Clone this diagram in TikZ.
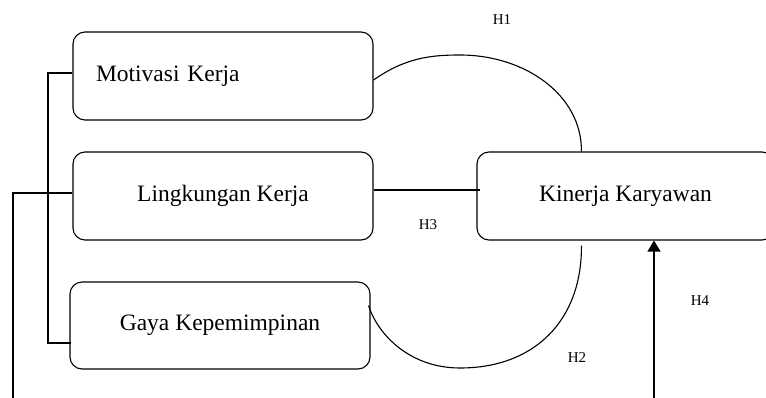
\documentclass[tikz,border=0pt]{standalone}
\usepackage{fontspec}
\setmainfont{Liberation Serif}
\usetikzlibrary{calc,arrows.meta}

\tikzset{
  var/.style={draw, line width=1.1pt, rounded corners=12pt, minimum width=300pt,
    minimum height=88pt, inner sep=0pt, font=\fontsize{23.5}{26}\selectfont},
  link/.style={line width=1.1pt},
  hyp/.style={font=\fontsize{15}{17}\selectfont, inner sep=0pt}
}

\begin{document}
\begin{tikzpicture}[x=1pt, y=-1pt]
  \useasboundingbox (0,0) rectangle (766,398);
  \clip (0,0) rectangle (766,398);

  % variables
  \node[var, text width=254pt, align=left] (mot) at (223,76) {Motivasi Kerja};
  \node[var] (lin) at (223,196) {Lingkungan Kerja};
  \node[var, minimum height=87pt] (gaya) at (220,325.5) {Gaya Kepemimpinan};
  \node[var, minimum width=297pt] (kin) at (625.5,196) {Kinerja Karyawan};

  % free ends of the long connectors
  \coordinate (bt) at (48,73);
  \coordinate (bb) at (48,343);
  \coordinate (lb) at (13,398);
  \coordinate (ab) at (654,398);

  % bracket joining the three independent variables
  \draw[link] ($(mot.west)+(0,-3)$) -- (bt) -- (bb) -- ($(gaya.west)+(2,17.5)$);
  \draw[link] ($(lin.west)+(0,-3)$) -| (lb);

  % H1
  \draw[link] ($(mot.east)+(0,4)$) .. controls (405,58) and (430,55) .. (460,55)
    .. controls (525,55) and (582,95) .. ($(kin.north west)+(105,0)$);
  % H3
  \draw[link] ($(lin.east)+(0,-6)$) -- ($(kin.west)+(4,-6)$);
  % H2
  \draw[link] ($(kin.south west)+(105,5)$) .. controls (582,320) and (535,368) .. (460,368)
    .. controls (410,368) and (378,335) .. ($(gaya.east)+(-2,-20)$);
  % H4
  \draw[link, -{Triangle[length=11pt,width=13pt]}] (ab) -- (ab |- kin.south);

  % hypothesis labels
  \node[hyp] (h1) at (502,20) {H1};
  \node[hyp] (h3) at (428,225) {H3};
  \node[hyp] (h4) at (700,301) {H4};
  \node[hyp] (h2) at (577,358) {H2};
\end{tikzpicture}
\end{document}
